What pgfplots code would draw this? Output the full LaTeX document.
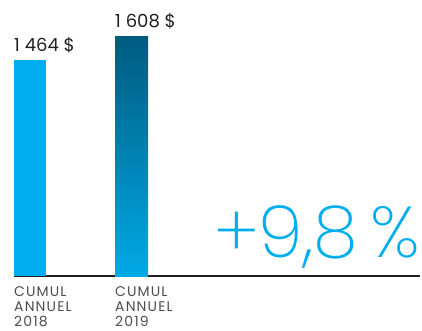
\documentclass[border=0pt]{standalone}
\usepackage{fontspec}
\setmainfont{Poppins}
\newfontfamily\lightfont{Poppins ExtraLight}
\newfontfamily\catfont{Poppins}[LetterSpace=8]
\usepackage{pgfplots}
\pgfplotsset{compat=1.18}
\definecolor{cyanA}{HTML}{00AEEF}
\definecolor{darkTop}{HTML}{005B7F}
\definecolor{lightBot}{HTML}{00AAE6}
\definecolor{txt}{HTML}{231F20}
\definecolor{cat}{HTML}{4D4D4D}
\definecolor{axisc}{HTML}{231F20}
\begin{document}
\begin{tikzpicture}[x=1pt,y=1pt]
\useasboundingbox (0,0) rectangle (422,330);
\begin{axis}[
  at={(14pt,54pt)}, anchor=south west,
  scale only axis, width=406pt, height=276pt,
  xmin=14, xmax=420, ymin=168, ymax=1824,
  ybar, bar shift=0pt,
  axis x line*=bottom, axis y line=none,
  x axis line style={-, line width=2pt, color=axisc},
  ytick=\empty,
  xtick={14,115}, major tick length=0pt,
  xticklabels={CUMUL\\ANNUEL\\2018, CUMUL\\ANNUEL\\2019},
  xticklabel style={align=left, anchor=north west, inner sep=0pt, yshift=-10.5pt,
    font=\catfont\fontsize{14}{14.8}\selectfont, text=cat},
  clip=false,
  point meta=explicit symbolic,
  nodes near coords,
  every node near coord/.style={anchor=base west, inner sep=0pt, xshift=-16pt, yshift=9pt,
    font=\fontsize{18}{20}\selectfont, text=txt},
]
\addplot[bar width=32, fill=cyanA, draw=none] coordinates {(30,1464) [1 464 \$]};
\addplot[bar width=33, draw=none, top color=darkTop, bottom color=lightBot,
  every node near coord/.append style={xshift=-0.5pt}] coordinates {(131.5,1608) [1 608 \$]};
\end{axis}
\node[anchor=base east, inner sep=0pt, text=cyanA, font=\lightfont\fontsize{72}{72}\selectfont] at (420,73) {+9,8\,\%};
\end{tikzpicture}
\end{document}
